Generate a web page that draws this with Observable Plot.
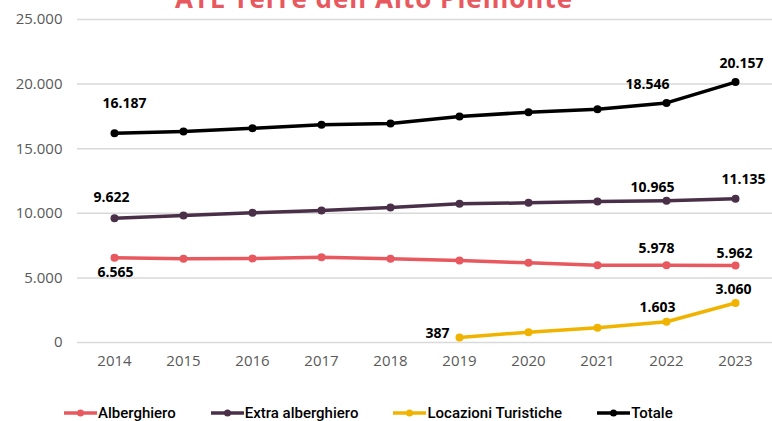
<!DOCTYPE html>
<html>
<head>
<meta charset="utf-8">
<script src="https://cdn.jsdelivr.net/npm/d3@7"></script>
<script src="https://cdn.jsdelivr.net/npm/@observablehq/plot@0.6"></script>
<style>
  body { margin: 0; background: #fff; }
  #wrap { position: relative; width: 772px; height: 421px; overflow: hidden; font-family: "Open Sans", sans-serif; background: #fff; }
  #title { position: absolute; left: 0; top: -15.5px; width: 748px; text-align: center; font: 700 26px/26px "Open Sans", sans-serif; letter-spacing: 1px; color: #E8585F; z-index: 2; }
  #chart { position: absolute; left: 0; top: 0; }
  #legend { position: absolute; top: 404px; left: 64px; display: flex; align-items: center; font: 500 15px/18px Roboto, sans-serif; color: #000; }
  .item { display: flex; align-items: center; margin-right: 35px; }
  .item svg { margin-right: 1px; }
</style>
</head>
<body>
<div id="wrap">
  <div id="title">ATL Terre dell'Alto Piemonte</div>
  <div id="chart"></div>
  <div id="legend"></div>
</div>
<script>
// ---- data ----
const years = [2014, 2015, 2016, 2017, 2018, 2019, 2020, 2021, 2022, 2023];
const seriesNames = ["Alberghiero", "Extra alberghiero", "Locazioni Turistiche", "Totale"];
const alberghiero = [6565, 6478, 6502, 6605, 6478, 6347, 6166, 5985, 5978, 5962];
const extraAlberghiero = [9622, 9830, 10036, 10217, 10449, 10733, 10810, 10913, 10965, 11135];
const locazioniTuristiche = [null, null, null, null, null, 387, 800, 1135, 1603, 3060];
const totale = [16187, 16330, 16580, 16860, 16950, 17500, 17820, 18050, 18546, 20157];
const labeledYears = {
  "Alberghiero": [2014, 2022, 2023],
  "Extra alberghiero": [2014, 2022, 2023],
  "Locazioni Turistiche": [2019, 2022, 2023],
  "Totale": [2014, 2022, 2023]
};
const yTicks = [0, 5000, 10000, 15000, 20000, 25000];

// ---- styling / layout config ----
const colors = ["#E8585F", "#4A2F48", "#F0B400", "#000000"];
const labelNudges = {
  "Totale|2014": [10, -30], "Totale|2022": [-19, -18], "Totale|2023": [6, -19],
  "Extra alberghiero|2014": [-3, -21], "Extra alberghiero|2022": [-14, -13], "Extra alberghiero|2023": [8, -19],
  "Alberghiero|2014": [1, 15], "Alberghiero|2022": [-10, -17], "Alberghiero|2023": [-1, -12],
  "Locazioni Turistiche|2019": [-22, -4], "Locazioni Turistiche|2022": [-9, -14], "Locazioni Turistiche|2023": [-2, -13]
};

const locale = d3.formatLocale({decimal: ",", thousands: ".", grouping: [3], currency: ["€", ""]});
const fmt = locale.format(",d");

const seriesValues = [alberghiero, extraAlberghiero, locazioniTuristiche, totale];
const rows = [];
seriesNames.forEach((s, i) => {
  years.forEach((y, j) => {
    const v = seriesValues[i][j];
    if (v != null) rows.push({series: s, year: y, value: v});
  });
});
const labelRows = rows.filter(r => labeledYears[r.series].includes(r.year));

const labelMarks = labelRows.map(r => {
  const [dx, dy] = labelNudges[r.series + "|" + r.year] || [0, -14];
  return Plot.text([r], {
    x: "year", y: "value", text: d => fmt(d.value),
    dx, dy, fontSize: 14, fontWeight: 700, fill: "#000", fontFamily: "Open Sans"
  });
});

const chart = Plot.plot({
  width: 772,
  height: 385,
  marginLeft: 77,
  marginRight: 0,
  marginTop: 19,
  marginBottom: 43,
  style: {fontFamily: "Open Sans", background: "transparent", overflow: "visible"},
  x: {type: "point", domain: years, padding: 0.5, label: null},
  y: {domain: [0, 25000], label: null},
  color: {domain: seriesNames, range: colors},
  marks: [
    Plot.gridY(yTicks, {stroke: "#d9d9d9", strokeOpacity: 1, strokeWidth: 1.5}),
    Plot.axisY(yTicks, {tickSize: 0, tickPadding: 15, tickFormat: fmt, fontSize: 15, fill: "#595959", label: null}),
    Plot.axisX({tickSize: 0, tickPadding: 13, fontSize: 15, fill: "#595959", label: null, tickFormat: d => String(d)}),
    Plot.line(rows, {x: "year", y: "value", z: "series", stroke: "series", strokeWidth: 3.5}),
    Plot.dot(rows, {x: "year", y: "value", fill: "series", r: 4}),
    ...labelMarks
  ]
});
document.getElementById("chart").appendChild(chart);

// legend
const legend = document.getElementById("legend");
seriesNames.forEach((s, i) => {
  const item = document.createElement("div");
  item.className = "item";
  item.innerHTML = `<svg width="33" height="10"><line x1="0" x2="33" y1="5" y2="5" stroke="${colors[i]}" stroke-width="3.5"/><circle cx="16.5" cy="5" r="3.5" fill="${colors[i]}"/></svg><span>${s}</span>`;
  legend.appendChild(item);
});
</script>
</body>
</html>
